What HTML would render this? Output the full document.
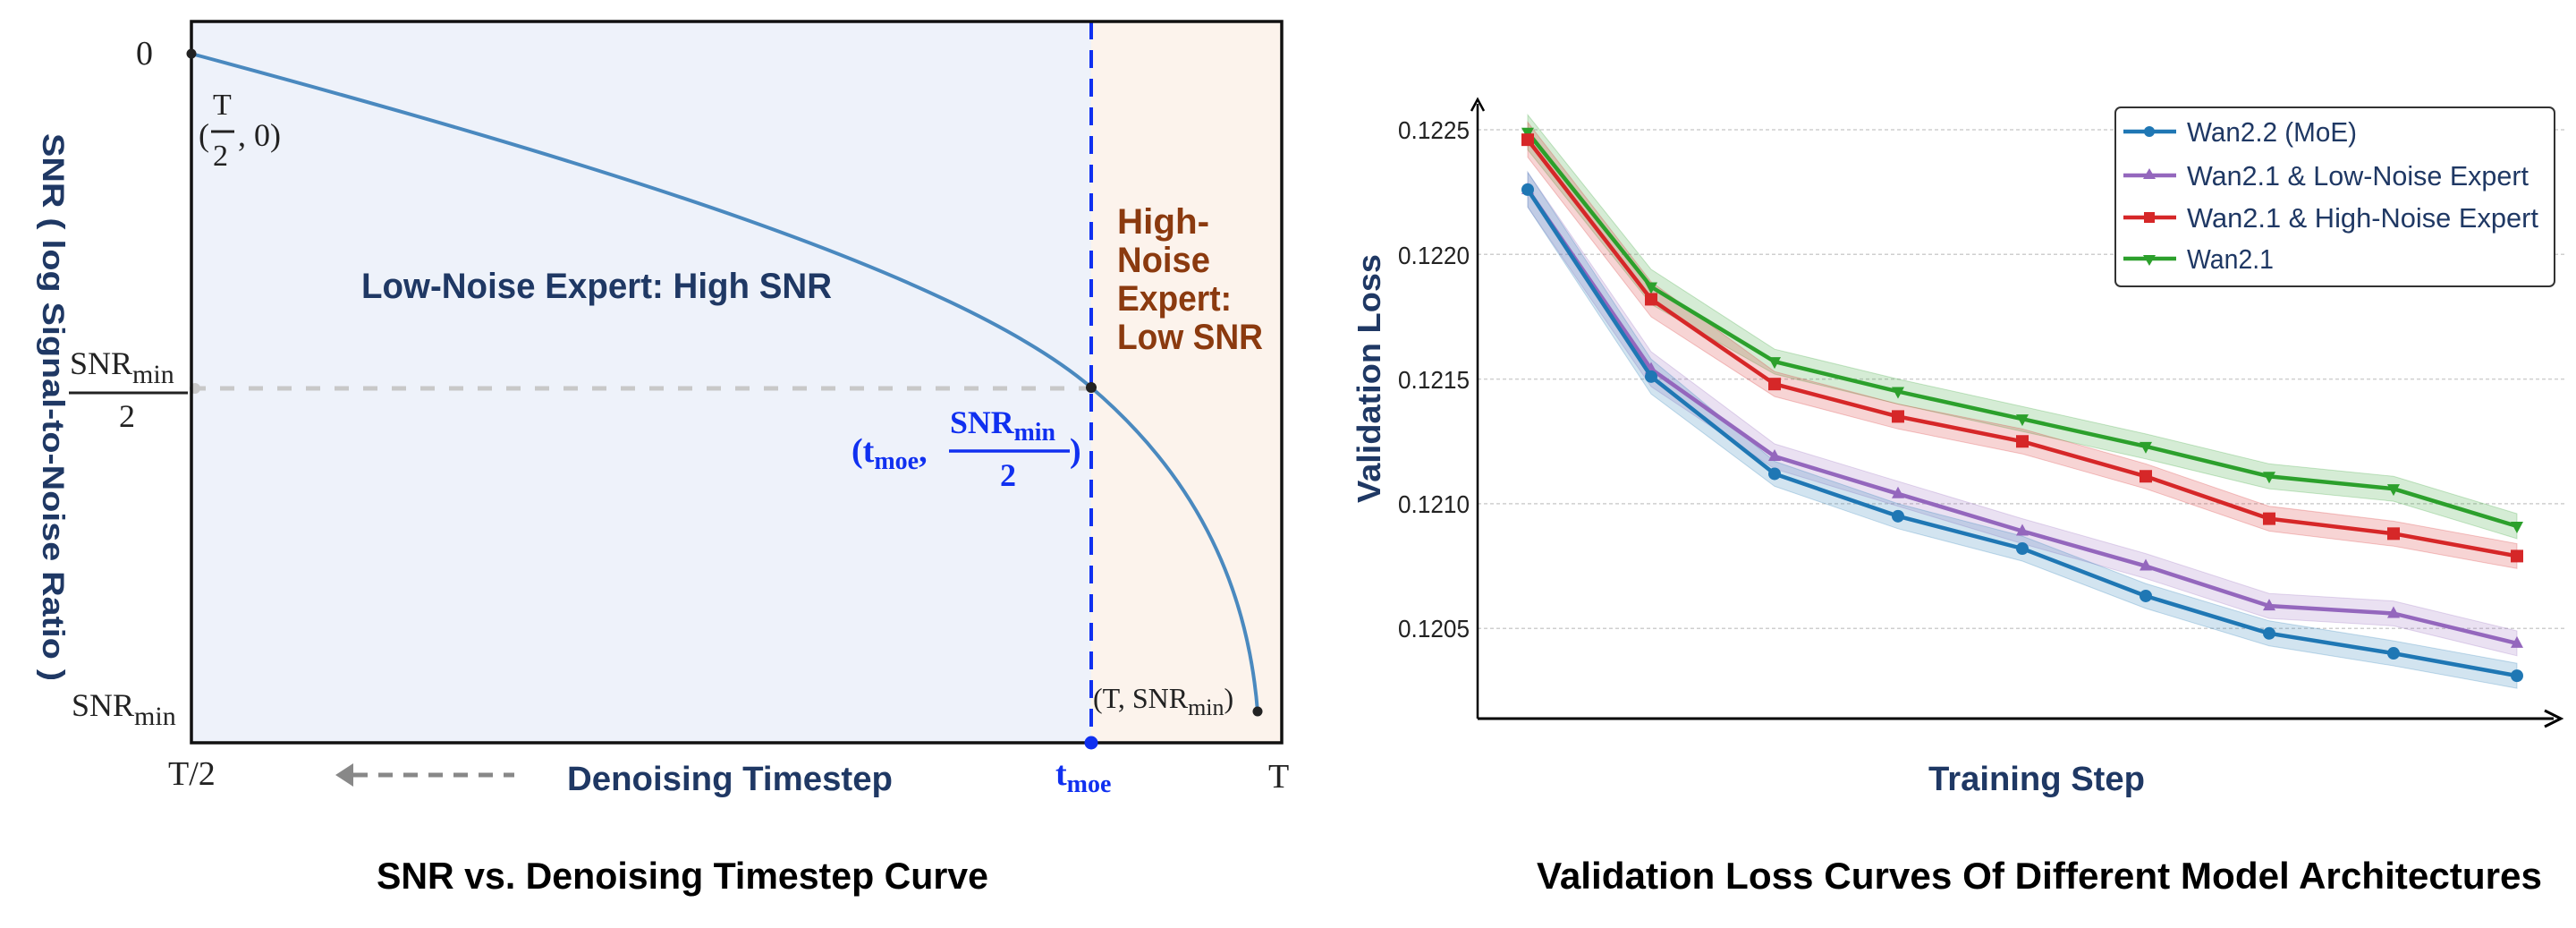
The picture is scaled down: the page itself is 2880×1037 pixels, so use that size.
<!DOCTYPE html>
<html><head><meta charset="utf-8"><style>
html,body{margin:0;padding:0;background:#fff;width:2880px;height:1037px;overflow:hidden}
svg{display:block}
.ser{font-family:"Liberation Serif",serif;fill:#222}
.nav{font-family:"Liberation Sans",sans-serif;font-weight:bold;fill:#1f3864}
</style></head><body>
<svg width="2880" height="1037" viewBox="0 0 2880 1037" xmlns="http://www.w3.org/2000/svg">
<!-- LEFT CHART -->
<rect x="214" y="24" width="1006" height="806" fill="#eef2fa"/>
<rect x="1220" y="24" width="213" height="806" fill="#fcf3ec"/>
<path d="M214,60 C664,181 1070,305 1220,433 C1330,527 1394,645 1406,795" fill="none" stroke="#4a89bf" stroke-width="4"/>
<line x1="214" y1="434" x2="1220" y2="434" stroke="#c8c8c8" stroke-width="5" stroke-dasharray="16,16"/>
<circle cx="218" cy="434" r="6" fill="#c8c8c8"/>
<line x1="1220" y1="24" x2="1220" y2="830" stroke="#1030f0" stroke-width="4" stroke-dasharray="20,12"/>
<rect x="214" y="24" width="1219" height="806" fill="none" stroke="#111" stroke-width="3.5"/>
<circle cx="214" cy="60" r="5.5" fill="#222"/>
<circle cx="1220" cy="433" r="6" fill="#222"/>
<circle cx="1406" cy="795" r="5.5" fill="#222"/>
<circle cx="1220" cy="830" r="7.5" fill="#1030f0"/>

<text class="ser" x="152" y="72" font-size="38">0</text>
<text class="ser" x="238" y="128" font-size="34">T</text>
<line x1="236" y1="147" x2="262" y2="147" stroke="#222" stroke-width="3"/>
<text class="ser" x="238" y="185" font-size="34">2</text>
<text class="ser" x="222" y="163" font-size="36">(</text>
<text class="ser" x="266" y="163" font-size="36">, 0)</text>

<text class="ser" x="78" y="418" font-size="36">SNR<tspan font-size="30" dy="10">min</tspan></text>
<line x1="77" y1="439" x2="210" y2="439" stroke="#222" stroke-width="3"/>
<text class="ser" x="133" y="477" font-size="36">2</text>
<text class="ser" x="80" y="800" font-size="36">SNR<tspan font-size="30" dy="10">min</tspan></text>

<text class="nav" transform="translate(48,455) rotate(90)" text-anchor="middle" font-size="34" textLength="612" lengthAdjust="spacingAndGlyphs">SNR ( log Signal-to-Noise Ratio )</text>

<text class="nav" x="404" y="333" font-size="40" textLength="526" lengthAdjust="spacingAndGlyphs">Low-Noise Expert: High SNR</text>
<g font-family="Liberation Sans,sans-serif" font-weight="bold" fill="#8b3a0f" font-size="40">
<text x="1249" y="261" textLength="103" lengthAdjust="spacingAndGlyphs">High-</text>
<text x="1249" y="304" textLength="104" lengthAdjust="spacingAndGlyphs">Noise</text>
<text x="1249" y="347" textLength="128" lengthAdjust="spacingAndGlyphs">Expert:</text>
<text x="1249" y="390" textLength="163" lengthAdjust="spacingAndGlyphs">Low SNR</text>
</g>

<g font-family="Liberation Serif,serif" font-weight="bold" fill="#1030f0">
<text x="952" y="516" font-size="38">(t<tspan font-size="28" dy="8">moe</tspan><tspan dy="-8">,</tspan></text>
<text x="1062" y="484" font-size="36" textLength="118" lengthAdjust="spacingAndGlyphs">SNR<tspan font-size="28" dy="8">min</tspan></text>
<text x="1118" y="543" font-size="36">2</text>
<text x="1196" y="516" font-size="38">)</text>
</g>
<line x1="1061" y1="504" x2="1196" y2="504" stroke="#1030f0" stroke-width="3.5"/>

<text class="ser" x="1222" y="791" font-size="32">(T, SNR<tspan font-size="26" dy="8">min</tspan><tspan dy="-8">)</tspan></text>

<text class="ser" x="188" y="877" font-size="38" fill="#111">T/2</text>
<line x1="395" y1="866" x2="575" y2="866" stroke="#888" stroke-width="5" stroke-dasharray="16,12"/>
<polygon points="375,866 395,853 395,879" fill="#888"/>
<text class="nav" x="634" y="883" font-size="38" textLength="364" lengthAdjust="spacingAndGlyphs">Denoising Timestep</text>
<text x="1180" y="877" font-family="Liberation Serif,serif" font-weight="bold" fill="#1030f0" font-size="38">t<tspan font-size="28" dy="8">moe</tspan></text>
<text class="ser" x="1418" y="880" font-size="38" fill="#111">T</text>

<text x="421" y="993" font-family="Liberation Sans,sans-serif" font-weight="bold" font-size="42" fill="#000" textLength="684" lengthAdjust="spacingAndGlyphs">SNR vs. Denoising Timestep Curve</text>

<!-- RIGHT CHART -->
<g id="grid" stroke="#cfcfcf" stroke-width="1.5" stroke-dasharray="4,3"></g>
<g id="bands"></g>
<g id="lines"></g>
<line x1="1652" y1="803" x2="2855" y2="803" stroke="#000" stroke-width="3"/>
<polyline points="2845,794 2863,803 2845,812" fill="none" stroke="#000" stroke-width="3"/>
<line x1="1652" y1="803" x2="1652" y2="116" stroke="#000" stroke-width="2.5"/>
<polyline points="1645,124 1652,111 1659,124" fill="none" stroke="#000" stroke-width="2.5"/>
<g font-family="Liberation Sans,sans-serif" font-size="28" fill="#222" text-anchor="end">
<text x="1643" y="155" textLength="80" lengthAdjust="spacingAndGlyphs">0.1225</text>
<text x="1643" y="295" textLength="80" lengthAdjust="spacingAndGlyphs">0.1220</text>
<text x="1643" y="434" textLength="80" lengthAdjust="spacingAndGlyphs">0.1215</text>
<text x="1643" y="573" textLength="80" lengthAdjust="spacingAndGlyphs">0.1210</text>
<text x="1643" y="712" textLength="80" lengthAdjust="spacingAndGlyphs">0.1205</text>
</g>
<text class="nav" transform="translate(1543,423) rotate(-90)" text-anchor="middle" font-size="36" textLength="278" lengthAdjust="spacingAndGlyphs">Validation Loss</text>
<text class="nav" x="2156" y="883" font-size="38" textLength="242" lengthAdjust="spacingAndGlyphs">Training Step</text>
<text x="1718" y="993" font-family="Liberation Sans,sans-serif" font-weight="bold" font-size="42" fill="#000" textLength="1124" lengthAdjust="spacingAndGlyphs">Validation Loss Curves Of Different Model Architectures</text>

<!-- legend -->
<rect x="2365" y="120" width="491" height="200" rx="6" fill="#fff" stroke="#333" stroke-width="2"/>
<g stroke-width="4.5">
<line x1="2374" y1="147" x2="2433" y2="147" stroke="#1f77b4"/><circle cx="2403" cy="147" r="6" fill="#1f77b4"/>
<line x1="2374" y1="196" x2="2433" y2="196" stroke="#9467bd"/><polygon points="2403,188 2410,200 2396,200" fill="#9467bd"/>
<line x1="2374" y1="243" x2="2433" y2="243" stroke="#d62728"/><rect x="2397" y="237" width="12" height="12" fill="#d62728"/>
<line x1="2374" y1="289" x2="2433" y2="289" stroke="#2ca02c"/><polygon points="2396,285 2410,285 2403,297" fill="#2ca02c"/>
</g>
<g font-family="Liberation Sans,sans-serif" font-size="31" fill="#1f3864">
<text x="2445" y="158" textLength="190" lengthAdjust="spacingAndGlyphs">Wan2.2 (MoE)</text>
<text x="2445" y="207" textLength="382" lengthAdjust="spacingAndGlyphs">Wan2.1 &amp; Low-Noise Expert</text>
<text x="2445" y="254" textLength="393" lengthAdjust="spacingAndGlyphs">Wan2.1 &amp; High-Noise Expert</text>
<text x="2445" y="300" textLength="97" lengthAdjust="spacingAndGlyphs">Wan2.1</text>
</g>
</svg>
<script>
(function(){
var NS="http://www.w3.org/2000/svg";
function Y(v){return 145+(0.1225-v)/0.0005*139.3;}
var X=[1708,1846,1984,2122,2261,2399,2537,2676,2814];
var g=document.getElementById("grid");
[0.1225,0.1220,0.1215,0.1210,0.1205].forEach(function(v){
 var l=document.createElementNS(NS,"line");l.setAttribute("x1",1652);l.setAttribute("x2",2870);
 l.setAttribute("y1",Y(v));l.setAttribute("y2",Y(v));g.appendChild(l);});
var S=[
 {c:"#2ca02c",m:"tdown",v:[.12249,.12187,.12157,.12145,.12134,.12123,.12111,.12106,.12091]},
 {c:"#d62728",m:"sq",v:[.12246,.12182,.12148,.12135,.12125,.12111,.12094,.12088,.12079]},
 {c:"#9467bd",m:"tup",v:[.12226,.12154,.12119,.12104,.12089,.12075,.12059,.12056,.12044]},
 {c:"#1f77b4",m:"c",v:[.12226,.12151,.12112,.12095,.12082,.12063,.12048,.12040,.12031]}];
var B=document.getElementById("bands"),L=document.getElementById("lines");
S.forEach(function(s){
 var up=[],dn=[],pts=[];
 s.v.forEach(function(v,i){var e=0.00005+(i<2?0.00002:0);up.push(X[i]+","+Y(v+e).toFixed(1));dn.unshift(X[i]+","+Y(v-e).toFixed(1));pts.push(X[i]+","+Y(v).toFixed(1));});
 var pg=document.createElementNS(NS,"polygon");pg.setAttribute("points",up.concat(dn).join(" "));
 pg.setAttribute("fill",s.c);pg.setAttribute("fill-opacity","0.2");pg.setAttribute("stroke",s.c);pg.setAttribute("stroke-opacity","0.25");B.appendChild(pg);
 var pl=document.createElementNS(NS,"polyline");pl.setAttribute("points",pts.join(" "));pl.setAttribute("fill","none");
 pl.setAttribute("stroke",s.c);pl.setAttribute("stroke-width","4.5");pl.setAttribute("stroke-linejoin","round");L.appendChild(pl);
 s.v.forEach(function(v,i){var x=X[i],y=Y(v),el;
  if(s.m=="c"){el=document.createElementNS(NS,"circle");el.setAttribute("cx",x);el.setAttribute("cy",y);el.setAttribute("r",7);}
  else if(s.m=="sq"){el=document.createElementNS(NS,"rect");el.setAttribute("x",x-7);el.setAttribute("y",y-7);el.setAttribute("width",14);el.setAttribute("height",14);}
  else if(s.m=="tup"){el=document.createElementNS(NS,"polygon");el.setAttribute("points",x+","+(y-8)+" "+(x+7)+","+(y+5)+" "+(x-7)+","+(y+5));}
  else {el=document.createElementNS(NS,"polygon");el.setAttribute("points",(x-7)+","+(y-5)+" "+(x+7)+","+(y-5)+" "+x+","+(y+8));}
  el.setAttribute("fill",s.c);L.appendChild(el);});
});
})();
</script>
</body></html>
